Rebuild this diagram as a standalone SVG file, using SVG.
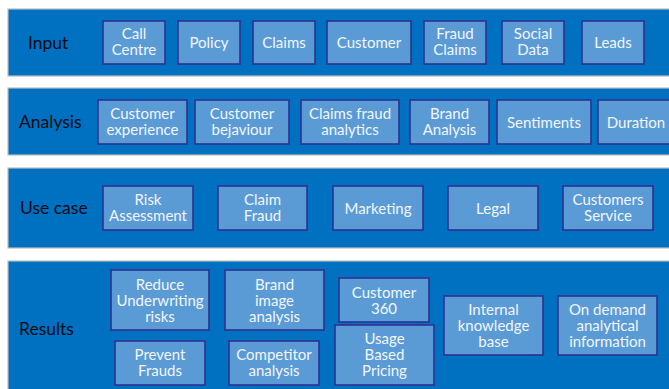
<svg xmlns="http://www.w3.org/2000/svg" width="669" height="389" viewBox="0 0 669 389">
  <style>
    .band { fill: #0070C0; stroke: #BDBDBD; stroke-width: 1.2; }
    .box { fill: #5B9BD5; stroke: #2E3192; stroke-width: 1.6; }
    .lbl { font-family: Lato, "Noto Sans", sans-serif; font-size: 17.5px; fill: #0A0A14; }
    .txt { font-family: Lato, "Noto Sans", sans-serif; font-size: 15px; fill: #F2F6FB; text-anchor: middle; }
  </style>
  <rect width="669" height="389" fill="#FFFFFF"/>

  <!-- Input row -->
  <g id="band-input">
    <rect class="band" x="8" y="9" width="670" height="67"/>
    <text class="lbl" x="28" y="49">Input</text>
  </g>
  <g id="call-centre"><rect class="box" x="103" y="21" width="62" height="43"/><text class="txt" x="134" y="39">Call</text><text class="txt" x="134" y="55">Centre</text></g>
  <g id="policy"><rect class="box" x="178" y="21" width="62" height="43"/><text class="txt" x="209" y="48">Policy</text></g>
  <g id="claims"><rect class="box" x="253" y="21" width="62" height="43"/><text class="txt" x="284" y="48">Claims</text></g>
  <g id="customer"><rect class="box" x="327" y="21" width="84" height="43"/><text class="txt" x="369" y="48">Customer</text></g>
  <g id="fraud-claims"><rect class="box" x="424" y="21" width="62" height="43"/><text class="txt" x="455" y="39">Fraud</text><text class="txt" x="455" y="55">Claims</text></g>
  <g id="social-data"><rect class="box" x="502" y="21" width="62" height="43"/><text class="txt" x="533" y="39">Social</text><text class="txt" x="533" y="55">Data</text></g>
  <g id="leads"><rect class="box" x="582" y="21" width="62" height="43"/><text class="txt" x="613" y="48">Leads</text></g>

  <!-- Analysis row -->
  <g id="band-analysis">
    <rect class="band" x="8" y="88" width="670" height="67"/>
    <text class="lbl" x="19" y="128">Analysis</text>
  </g>
  <g id="customer-experience"><rect class="box" x="98" y="100" width="89" height="44"/><text class="txt" x="142.5" y="119">Customer</text><text class="txt" x="142.5" y="135">experience</text></g>
  <g id="customer-bejaviour"><rect class="box" x="195" y="100" width="94" height="44"/><text class="txt" x="242" y="119">Customer</text><text class="txt" x="242" y="135">bejaviour</text></g>
  <g id="claims-fraud-analytics"><rect class="box" x="301" y="100" width="98" height="44"/><text class="txt" x="350" y="119">Claims fraud</text><text class="txt" x="350" y="135">analytics</text></g>
  <g id="brand-analysis"><rect class="box" x="410" y="100" width="79" height="44"/><text class="txt" x="449.5" y="119">Brand</text><text class="txt" x="449.5" y="135">Analysis</text></g>
  <g id="sentiments"><rect class="box" x="497" y="100" width="94" height="44"/><text class="txt" x="544" y="128">Sentiments</text></g>
  <g id="duration"><rect class="box" x="598" y="100" width="76" height="44"/><text class="txt" x="636" y="128">Duration</text></g>

  <!-- Use case row -->
  <g id="band-use-case">
    <rect class="band" x="8" y="168" width="670" height="80"/>
    <text class="lbl" x="20" y="214">Use case</text>
  </g>
  <g id="risk-assessment"><rect class="box" x="103" y="186" width="90" height="44"/><text class="txt" x="148" y="205">Risk</text><text class="txt" x="148" y="221">Assessment</text></g>
  <g id="claim-fraud"><rect class="box" x="218" y="186" width="89" height="44"/><text class="txt" x="262.5" y="205">Claim</text><text class="txt" x="262.5" y="221">Fraud</text></g>
  <g id="marketing"><rect class="box" x="333" y="186" width="90" height="44"/><text class="txt" x="378" y="214">Marketing</text></g>
  <g id="legal"><rect class="box" x="448" y="186" width="90" height="44"/><text class="txt" x="493" y="214">Legal</text></g>
  <g id="customers-service"><rect class="box" x="563" y="186" width="90" height="44"/><text class="txt" x="608" y="205">Customers</text><text class="txt" x="608" y="221">Service</text></g>

  <!-- Results row -->
  <g id="band-results">
    <rect class="band" x="8" y="261" width="670" height="140"/>
    <text class="lbl" x="19" y="335">Results</text>
  </g>
  <g id="reduce-underwriting-risks"><rect class="box" x="111" y="270" width="98" height="60"/><text class="txt" x="160" y="290">Reduce</text><text class="txt" x="160" y="306">Underwriting</text><text class="txt" x="160" y="322">risks</text></g>
  <g id="brand-image-analysis"><rect class="box" x="225" y="270" width="99" height="60"/><text class="txt" x="274.5" y="290">Brand</text><text class="txt" x="274.5" y="306">image</text><text class="txt" x="274.5" y="322">analysis</text></g>
  <g id="prevent-frauds"><rect class="box" x="115" y="341" width="90" height="44"/><text class="txt" x="160" y="360">Prevent</text><text class="txt" x="160" y="376">Frauds</text></g>
  <g id="competitor-analysis"><rect class="box" x="229" y="341" width="90" height="44"/><text class="txt" x="274" y="360">Competitor</text><text class="txt" x="274" y="376">analysis</text></g>
  <g id="customer-360"><rect class="box" x="339" y="278" width="90" height="44"/><text class="txt" x="384" y="298">Customer</text><text class="txt" x="384" y="314">360</text></g>
  <g id="usage-based-pricing"><rect class="box" x="335" y="325" width="99" height="60"/><text class="txt" x="384.5" y="344">Usage</text><text class="txt" x="384.5" y="360">Based</text><text class="txt" x="384.5" y="376">Pricing</text></g>
  <g id="internal-knowledge-base"><rect class="box" x="444" y="296" width="99" height="59"/><text class="txt" x="493.5" y="315">Internal</text><text class="txt" x="493.5" y="331">knowledge</text><text class="txt" x="493.5" y="347">base</text></g>
  <g id="on-demand-analytical-information"><rect class="box" x="558" y="296" width="99" height="59"/><text class="txt" x="607.5" y="315">On demand</text><text class="txt" x="607.5" y="331">analytical</text><text class="txt" x="607.5" y="347">information</text></g>

  <!-- no connectors in this layout -->
  <g id="connectors"/>
</svg>
